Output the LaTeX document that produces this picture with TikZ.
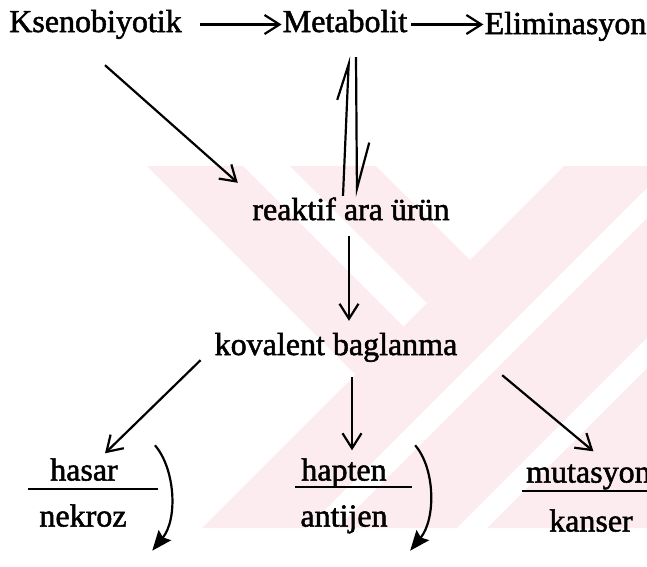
\documentclass[tikz,border=0pt]{standalone}
\usepackage{fontspec}
\setmainfont{Liberation Serif}[FakeBold=1.6]
\usetikzlibrary{arrows.meta}
\definecolor{wm}{RGB}{253,236,239}
\begin{document}
\begin{tikzpicture}[x=1pt,y=-1pt,
  lbl/.style={font=\fontsize{32}{38}\selectfont, text height=22pt, text depth=7pt, inner sep=1pt},
  arr/.style={line width=2.2pt, -{Straight Barb[length=15pt,width=19pt]}},
  hpn/.style={line width=2.2pt, -{Straight Barb[left,length=#1,width=#1*0.55]}},
  carr/.style={line width=2.2pt, -{Stealth[length=20pt,width=16pt,inset=3pt]}},
  bar/.style={line width=2.4pt}
]
\useasboundingbox (0,0) rectangle (647,566);
\fill[white] (0,0) rectangle (647,566);
% watermark
\begin{scope}
\clip (140,166) rectangle (647,528);
\fill[wm] (564,166) -- (700,166) -- (700,528) -- (202,528) -- cycle;
\fill[wm] (147,166) -- (243,166) -- (403.5,326.5) -- (355.5,374.5) -- cycle;
\fill[wm] (290,166) -- (376,166) -- (470,260) -- (427,303) -- cycle;
\fill[white] (735,100) -- (765,100) -- (265,600) -- (235,600) -- cycle;
\fill[white] (885,100) -- (915,100) -- (415,600) -- (385,600) -- cycle;
\end{scope}
% nodes
\node[lbl] (kseno) at (95.5,24.5) {Ksenobiyotik};
\node[lbl] (meta) at (345,24.5) {Metabolit};
\node[lbl] (elim) at (565.5,26.5) {Eliminasyon};
\node[lbl] (reak) at (351,212.5) {reaktif ara ürün};
\node[lbl] (kov) at (336,347.5) {kovalent baglanma};
\node[lbl] (hasar) at (84,473) {hasar};
\node[lbl] (nekroz) at (83,519) {nekroz};
\node[lbl] (hapten) at (344,473) {hapten};
\node[lbl] (antijen) at (344,519) {antijen};
\node[lbl, anchor=west] (muta) at (525,475) {mutasyon};
\node[lbl] (kanser) at (591,524) {kanser};
% fraction bars
\draw[bar] (28,489) -- (158,489);
\draw[bar] (295,487) -- (412,487);
\draw[bar] (522,491) -- (647,491);
% connectors
\draw[arr] ([shift={(17,0)}]kseno.east) -- (kseno.east -| meta.west);
\draw[arr] ([shift={(3,0)}]meta.east) -- (meta.east -| elim.west);
\draw[arr] ([shift={(9.5,25)}]kseno.south) -- ([shift={(-13.4,-14)}]reak.north west);
\draw[hpn=36pt] ([shift={(-8,-1)}]reak.north) -- ([shift={(4,16)}]meta.south);
\draw[hpn=46pt] ([shift={(11,17)}]meta.south) -- ([shift={(6,0)}]reak.north);
\draw[arr] ([shift={(-2,8)}]reak.south) -- ([shift={(13,-11)}]kov.north);
\draw[arr] ([shift={(-13,-3)}]kov.south west) -- ([shift={(21,-4)}]hasar.north);
\draw[arr] ([shift={(16,14)}]kov.south) -- ([shift={(8,-7)}]hapten.north);
\draw[arr] ([shift={(43.7,12)}]kov.south east) -- ([shift={(5,-8)}]muta.north);
\draw[carr] ([shift={(36,-12)}]hasar.north east) .. controls +(20,23) and +(26,-32) .. ([shift={(24.5,16)}]nekroz.south east);
\draw[carr] ([shift={(27.3,-12)}]hapten.north east) .. controls +(20,23) and +(26,-32) .. ([shift={(21.4,16)}]antijen.south east);
\end{tikzpicture}
\end{document}
